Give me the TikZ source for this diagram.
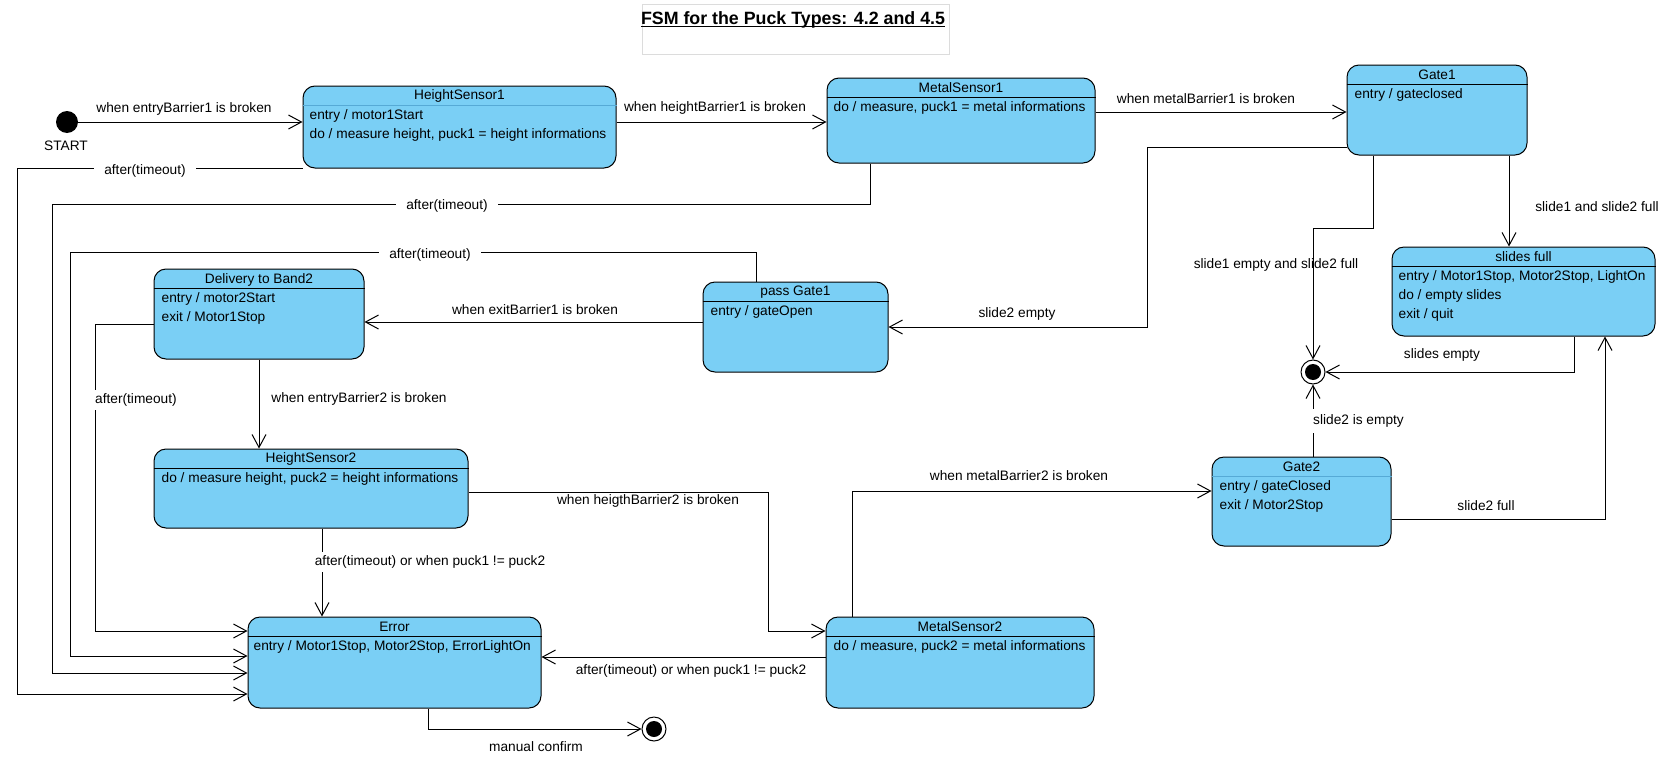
\documentclass[tikz,border=0pt]{standalone}
\usepackage{fontspec}
\setmainfont{Liberation Sans}
\usetikzlibrary{arrows.meta}

\definecolor{statefill}{RGB}{122,207,245}
\definecolor{softblue}{RGB}{86,170,214}
\definecolor{titleframe}{RGB}{220,220,220}

\begin{document}
\begin{tikzpicture}[x=1pt, y=-1pt,
        state/.style={draw, rectangle, rounded corners=12pt, fill=statefill, line width=1pt, inner sep=0pt},
        stitle/.style={font=\fontsize{13.7}{16}\selectfont, inner sep=0pt},
        sbody/.style={anchor=north west, align=left, inner xsep=3pt, inner ysep=4.5pt, font=\fontsize{13.7}{19}\selectfont},
        headline/.style={line width=1pt},
        softline/.style={line width=1pt, draw=softblue},
        trans/.style={font=\fontsize{13.7}{16}\selectfont, inner sep=2pt},
        transw/.style={trans, fill=white, inner xsep=10pt, inner ysep=4pt},
        arr/.style={-{Straight Barb[length=13pt, width=14pt]}, line width=1pt},
        startdot/.style={circle, fill=black, minimum size=22pt, inner sep=0pt},
        enddot/.style={circle, draw, fill=white, line width=1pt, minimum size=24pt, inner sep=0pt,
            path picture={\fill[black] (path picture bounding box.center) circle (8pt);}}
    ]
    \useasboundingbox (0,0) rectangle (1672,771);

    % Title
    \node[draw=titleframe, line width=1pt, minimum width=307pt, minimum height=50pt, inner sep=0pt] (titlebox) at (795.5,29) {};
    \node[font=\bfseries\fontsize{17.8}{20}\selectfont, inner sep=0pt] (title) at (793,20) {FSM for the Puck Types: 4.2 and 4.5};
    \draw[line width=1.3pt] ([yshift=-1.8pt]title.base west) -- ([yshift=-1.8pt]title.base east);

    % Start and end points
    \node[startdot] (start) at (67,122) {};
    \node[trans] (startlbl) at (66,146) {START};
    \node[enddot] (final1) at (1313,372) {};
    \node[enddot] (final2) at (654,729) {};

    % HeightSensor1
    \node[state, minimum width=313pt, minimum height=82pt] (hs1) at (459.5,127) {};
    \draw[softline] ([yshift=-19.5pt]hs1.north west) -- ([yshift=-19.5pt]hs1.north east);
    \node[stitle] at ([yshift=-10.5pt]hs1.north) {HeightSensor1};
    \node[sbody] at ([xshift=4pt, yshift=-19.5pt]hs1.north west) {entry / motor1Start\\do / measure height, puck1 = height informations};

    % MetalSensor1
    \node[state, minimum width=268pt, minimum height=85pt] (ms1) at (961,120.5) {};
    \draw[headline] ([yshift=-19.5pt]ms1.north west) -- ([yshift=-19.5pt]ms1.north east);
    \node[stitle] at ([yshift=-10.5pt]ms1.north) {MetalSensor1};
    \node[sbody] at ([xshift=4pt, yshift=-19.5pt]ms1.north west) {do / measure, puck1 = metal informations};

    % Gate1
    \node[state, minimum width=180pt, minimum height=90pt] (gate1) at (1437,110) {};
    \draw[headline] ([yshift=-19.5pt]gate1.north west) -- ([yshift=-19.5pt]gate1.north east);
    \node[stitle] at ([yshift=-10.5pt]gate1.north) {Gate1};
    \node[sbody] at ([xshift=5pt, yshift=-19.5pt]gate1.north west) {entry / gateclosed};

    % slides full
    \node[state, minimum width=263pt, minimum height=89pt] (full) at (1523.5,291.5) {};
    \draw[headline] ([yshift=-19.5pt]full.north west) -- ([yshift=-19.5pt]full.north east);
    \node[stitle] at ([yshift=-10.5pt]full.north) {slides full};
    \node[sbody] at ([xshift=4pt, yshift=-19.5pt]full.north west) {entry / Motor1Stop, Motor2Stop, LightOn\\do / empty slides\\exit / quit};

    % pass Gate1
    \node[state, minimum width=185pt, minimum height=90pt] (pass) at (795.5,327) {};
    \draw[headline] ([yshift=-19.5pt]pass.north west) -- ([yshift=-19.5pt]pass.north east);
    \node[stitle] at ([yshift=-10.5pt]pass.north) {pass Gate1};
    \node[sbody] at ([xshift=5pt, yshift=-19.5pt]pass.north west) {entry / gateOpen};

    % Delivery to Band2
    \node[state, minimum width=210pt, minimum height=90pt] (band2) at (259,314) {};
    \draw[headline] ([yshift=-19.5pt]band2.north west) -- ([yshift=-19.5pt]band2.north east);
    \node[stitle] at ([yshift=-11pt]band2.north) {Delivery to Band2};
    \node[sbody] at ([xshift=5pt, yshift=-19.5pt]band2.north west) {entry / motor2Start\\exit / Motor1Stop};

    % HeightSensor2
    \node[state, minimum width=314pt, minimum height=79pt] (hs2) at (311,488.5) {};
    \draw[headline] ([yshift=-19.5pt]hs2.north west) -- ([yshift=-19.5pt]hs2.north east);
    \node[stitle] at ([yshift=-10.5pt]hs2.north) {HeightSensor2};
    \node[sbody] at ([xshift=5pt, yshift=-19.5pt]hs2.north west) {do / measure height, puck2 = height informations};

    % Error
    \node[state, minimum width=293pt, minimum height=91pt] (error) at (394.5,662.5) {};
    \draw[headline] ([yshift=-19.5pt]error.north west) -- ([yshift=-19.5pt]error.north east);
    \node[stitle] at ([yshift=-10.5pt]error.north) {Error};
    \node[sbody] at ([xshift=3pt, yshift=-19.5pt]error.north west) {entry / Motor1Stop, Motor2Stop, ErrorLightOn};

    % MetalSensor2
    \node[state, minimum width=268pt, minimum height=91pt] (ms2) at (960,662.5) {};
    \draw[headline] ([yshift=-19.5pt]ms2.north west) -- ([yshift=-19.5pt]ms2.north east);
    \node[stitle] at ([yshift=-10.5pt]ms2.north) {MetalSensor2};
    \node[sbody] at ([xshift=5pt, yshift=-19.5pt]ms2.north west) {do / measure, puck2 = metal informations};

    % Gate2
    \node[state, minimum width=179pt, minimum height=89pt] (gate2) at (1301.5,501.5) {};
    \draw[softline] ([yshift=-19.5pt]gate2.north west) -- ([yshift=-19.5pt]gate2.north east);
    \node[stitle] at ([yshift=-10.5pt]gate2.north) {Gate2};
    \node[sbody] at ([xshift=5pt, yshift=-19.5pt]gate2.north west) {entry / gateClosed\\exit / Motor2Stop};

    % Bend points
    \coordinate (g1bend) at (1313,228);
    \coordinate (g1back) at (1147,327);
    \coordinate (tpass) at (70,252);
    \coordinate (tband) at (95,631);
    \coordinate (ths2) at (768,631);
    \coordinate (ths1) at (17,694);
    \coordinate (tms1) at (52,204);

    % Upper row
    \draw[arr] (start) -- (start -| hs1.west);
    \draw[arr] ([yshift=5pt]hs1.east) -- ([yshift=5pt]hs1.east -| ms1.west);
    \draw[arr] ([yshift=8.5pt]ms1.east) -- ([yshift=8.5pt]ms1.east -| gate1.west);
    \draw[arr] ([xshift=72pt]gate1.south) -- ([xshift=72pt]gate1.south |- full.north);
    \draw[arr] ([xshift=-64pt]gate1.south) |- (g1bend) -- (final1);
    \draw[arr] ([yshift=-37pt]gate1.west) -| (g1back) -- (pass.east);
    \draw[arr] ([xshift=50.5pt]full.south) |- (final1);

    % Middle row
    \draw[arr] ([yshift=5pt]pass.west) -- ([yshift=5pt]pass.west -| band2.east);
    \draw[arr] (band2.south) -- (band2.south |- hs2.north);
    \draw[arr] ([yshift=-3.5pt]hs2.east) -| (ths2) -- ([yshift=31.5pt]ms2.west);
    \draw[arr] ([xshift=-108pt]ms2.north) |- ([yshift=10.5pt]gate2.west);
    \draw[arr] ([xshift=11.5pt]gate2.north) -- (final1);
    \draw[arr] ([yshift=-17.5pt]gate2.east) -| ([xshift=81.5pt]full.south);

    % Into Error
    \draw[arr] (hs1.south west) -| (ths1) -- ([yshift=-31.5pt]error.west);
    \draw[arr] ([xshift=-91pt]ms1.south) |- (tms1) |- ([yshift=-10.5pt]error.west);
    \draw[arr] ([xshift=-39.5pt]pass.north) |- (tpass) |- ([yshift=6.5pt]error.west);
    \draw[arr] ([yshift=-10pt]band2.west) -| (tband) -- ([yshift=31.5pt]error.west);
    \draw[arr] ([xshift=11pt]hs2.south) -- ([xshift=11pt]hs2.south |- error.north);
    \draw[arr] ([yshift=5.5pt]ms2.west) -- ([yshift=5.5pt]ms2.west -| error.east);
    \draw[arr] ([xshift=33.5pt]error.south) |- (final2);

    % Transition labels
    \node[trans] at (184,109) {when entryBarrier1 is broken};
    \node[trans] at (715,108) {when heightBarrier1 is broken};
    \node[trans] at (1206,99) {when metalBarrier1 is broken};
    \node[trans] at (1597,207) {slide1 and slide2 full};
    \node[trans] at (1276,265) {slide1 empty and slide2 full};
    \node[trans] at (1017,314) {slide2 empty};
    \node[trans] at (1442,355) {slides empty};
    \node[transw, anchor=west, inner ysep=6pt] at (1303,421) {slide2 is empty};
    \node[trans] at (1486,506) {slide2 full};
    \node[trans] at (1019,476) {when metalBarrier2 is broken};
    \node[trans] at (648,501) {when heigthBarrier2 is broken};
    \node[trans] at (691,671) {after(timeout) or when puck1 != puck2};
    \node[transw] at (430,562) {after(timeout) or when puck1 != puck2};
    \node[trans] at (536,747) {manual confirm};
    \node[trans] at (535,310) {when exitBarrier1 is broken};
    \node[trans] at (359,399) {when entryBarrier2 is broken};
    \node[transw, anchor=west] at (85,400) {after(timeout)};
    \node[transw] at (430,255) {after(timeout)};
    \node[transw] at (447,206) {after(timeout)};
    \node[transw] at (145,171) {after(timeout)};

\end{tikzpicture}
\end{document}
